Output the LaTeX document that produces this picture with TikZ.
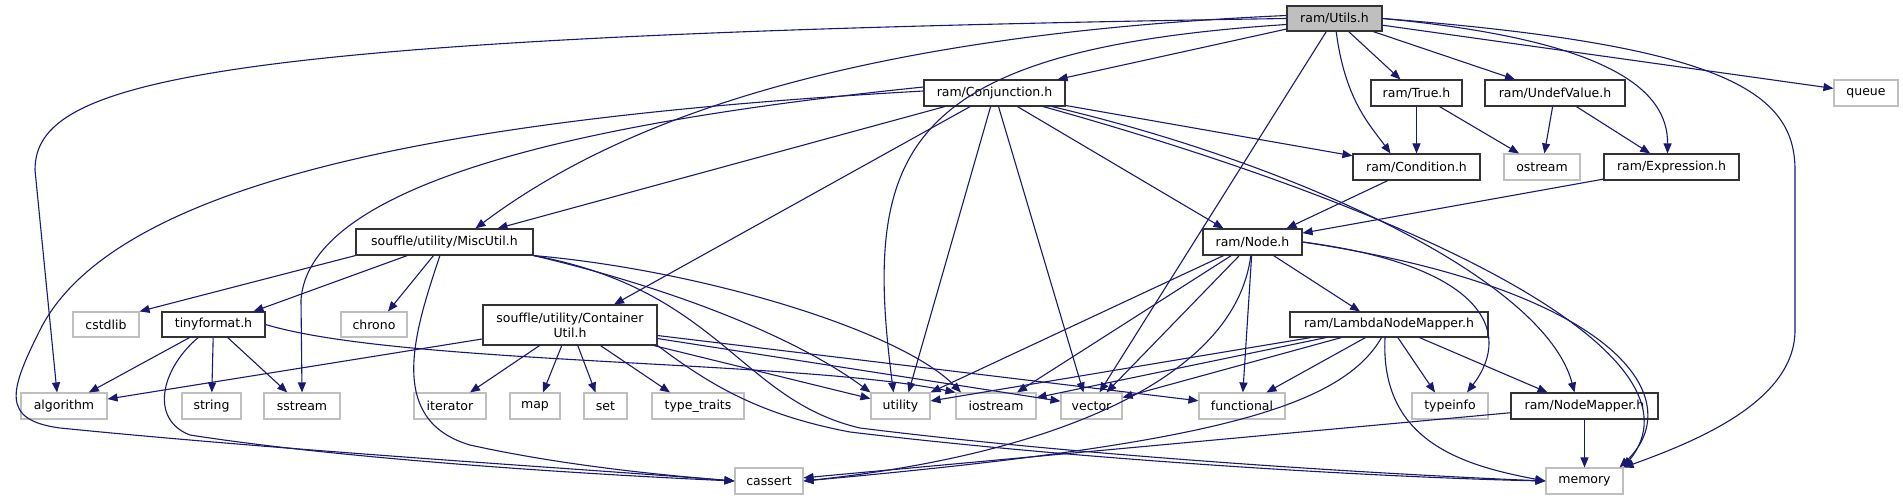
\documentclass[tikz,border=0pt]{standalone}
\usepackage{fontspec}
\setmainfont{DejaVu Sans}[Ligatures=CommonOff]
\usetikzlibrary{arrows.meta, positioning}
\definecolor{cedge}{HTML}{191970}
\definecolor{cgrey}{HTML}{BFBFBF}
\tikzset{
  every picture/.style={font=\fontsize{12.5}{15}\selectfont},
  hdr/.style={draw=black!80, fill=white, line width=1.1pt, inner sep=0pt, minimum height=26pt, align=center},
  sys/.style={hdr, draw=cgrey},
  root/.style={hdr, fill=cgrey},
  inc/.style={draw=cedge, line width=1.1pt, -{Triangle[length=10pt, width=8pt]}},
}

\begin{document}
\begin{tikzpicture}[x=1pt, y=-1pt]
  \useasboundingbox (0,0) rectangle (1903,500);
  % headers of the project
  \node[root, minimum width=95pt, minimum height=25pt] (utils) at (1334.5,18.5) {ram/Utils.h};
  \node[hdr, minimum width=141pt] (conj) at (994.5,93) {ram/Conjunction.h};
  \node[hdr, minimum width=91pt] (truen) at (1416.5,93) {ram/True.h};
  \node[hdr, minimum width=140pt] (undef) at (1555,93) {ram/UndefValue.h};
  \node[hdr, minimum width=127pt] (cond) at (1416.5,167) {ram/Condition.h};
  \node[hdr, minimum width=135pt] (expr) at (1671.5,167) {ram/Expression.h};
  \node[hdr, minimum width=177pt] (misc) at (444.5,242) {souffle/utility/MiscUtil.h};
  \node[hdr, minimum width=99pt] (ramnode) at (1252.5,242) {ram/Node.h};
  \node[hdr, minimum width=103pt, minimum height=25pt] (tiny) at (213.5,324.5) {tinyformat.h};
  \node[hdr, minimum width=174pt, minimum height=40pt] (cont) at (570,325) {souffle/utility/Container\\Util.h};
  \node[hdr, minimum width=198pt, minimum height=25pt] (lnm) at (1389,324.5) {ram/LambdaNodeMapper.h};
  \node[hdr, minimum width=147pt] (nmap) at (1584.5,406) {ram/NodeMapper.h};
  % system headers
  \node[sys, minimum width=64pt] (queue) at (1866,93) {queue};
  \node[sys, minimum width=76pt] (ostr) at (1542,167) {ostream};
  \node[sys, minimum width=66pt, minimum height=25pt] (cstd) at (106,324.5) {cstdlib};
  \node[sys, minimum width=66pt, minimum height=25pt] (chrono) at (374,324.5) {chrono};
  \foreach \n/\x/\w/\t in {alg/64/86/algorithm, str/211.5/59/string, sstr/302/76/sstream,
      iter/450/72/iterator, mapn/535/50/map, setn/605.5/43/set, tt/698/92/type\_traits,
      util/900.5/59/utility, iost/996/80/iostream, vec/1091.5/61/vector,
      func/1242/86/functional, tinfo/1450/76/typeinfo}
    \node[sys, minimum width=\w pt] (\n) at (\x,406) {\t};
  \node[sys, minimum width=68pt] (cass) at (769,481) {cassert};
  \node[sys, minimum width=77pt] (mem) at (1584.5,481) {memory};

  % ram/Utils.h
  \draw[inc] (utils.west) .. controls (200,35) and (35,80) .. (35,170) -- ([xshift=-7pt]alg.north);
  \draw[inc] ([yshift=3pt]utils.west) .. controls (850,35) and (620,120) .. ([xshift=31pt]misc.north);
  \draw[inc] (utils) -- ([xshift=-8pt]conj.north east);
  \draw[inc] ([yshift=-6pt]utils.west) .. controls (900,50) and (862,150) .. ([xshift=-7pt]util.north);
  \draw[inc] (utils) -- ([xshift=8pt]vec.north);
  \draw[inc] (utils) .. controls (1345,100) and (1370,125) .. ([xshift=-26pt]cond.north);
  \draw[inc] (utils) -- ([xshift=-16pt]truen.north);
  \draw[inc] (utils) -- ([xshift=-40pt]undef.north);
  \draw[inc] (utils.east) .. controls (1610,40) and (1668,90) .. ([xshift=-4pt]expr.north);
  \draw[inc] (utils.east) .. controls (1720,45) and (1795,90) .. (1795,170) -- (1795,330)
    .. controls (1795,400) and (1700,440) .. (mem.north east);
  \draw[inc] (utils) -- (queue);

  % ram/Conjunction.h
  \draw[inc] ([yshift=2pt]conj.west) .. controls (500,115) and (120,170) .. (40,330)
    .. controls (10,390) and (0,420) .. (60,428) .. controls (300,452) and (600,470) .. (cass.west);
  \draw[inc] ([yshift=6pt]conj.west) .. controls (650,115) and (310,170) .. (301,300) -- (sstr.north);
  \draw[inc] (conj) -- ([xshift=53pt]misc.north);
  \draw[inc] (conj) -- ([xshift=44pt]cont.north);
  \draw[inc] (conj) -- ([xshift=8pt]util.north);
  \draw[inc] (conj) -- ([xshift=-8pt]vec.north);
  \draw[inc] (conj) -- ([xshift=-29pt]ramnode.north);
  \draw[inc] (conj) -- (cond);
  \draw[inc] (conj) .. controls (1300,165) and (1545,280) .. ([xshift=-10pt]nmap.north);
  \draw[inc] (conj) .. controls (1450,220) and (1710,360) .. (mem.north east);

  % souffle/utility/MiscUtil.h
  \draw[inc] (misc.south west) -- (cstd.north east);
  \draw[inc] (misc) -- ([xshift=40pt]tiny.north);
  \draw[inc] (misc) -- ([xshift=14pt]chrono.north);
  \draw[inc] (misc) .. controls (415,330) and (385,420) .. (470,445)
    .. controls (560,465) and (660,475) .. (cass.west);
  \draw[inc] (misc.south east) .. controls (680,290) and (800,340) .. (util.north west);
  \draw[inc] (misc.south east) .. controls (700,270) and (900,330) .. ([xshift=-35pt]iost.north);
  \draw[inc] (misc.south east) .. controls (720,290) and (740,400) .. (860,428)
    .. controls (1100,458) and (1400,475) .. (mem.west);

  % tinyformat.h
  \draw[inc] (tiny) -- (alg);
  \draw[inc] (tiny) -- (str);
  \draw[inc] (tiny) -- (sstr);
  \draw[inc] (tiny) .. controls (160,370) and (150,420) .. (190,435)
    .. controls (350,460) and (600,475) .. (cass.west);
  \draw[inc] (tiny.east) .. controls (400,365) and (800,360) .. (iost.north west);

  % souffle/utility/ContainerUtil.h
  \draw[inc] (cont) -- (alg);
  \draw[inc] (cont) -- ([xshift=20pt]iter.north);
  \draw[inc] (cont) -- ([xshift=8pt]mapn.north);
  \draw[inc] (cont) -- ([xshift=-10pt]setn.north);
  \draw[inc] (cont) -- ([xshift=-28pt]tt.north);
  \draw[inc] (cont) -- (util);
  \draw[inc] (cont) -- (vec);
  \draw[inc] (cont) -- (func);
  \draw[inc] (cont.south east) .. controls (710,385) and (760,415) .. (850,432)
    .. controls (1100,462) and (1400,478) .. (mem.west);

  % ram/Node.h
  \draw[inc] (ramnode) -- (util.north east);
  \draw[inc] (ramnode) -- ([xshift=21pt]iost.north);
  \draw[inc] (ramnode) -- ([xshift=15pt]vec.north);
  \draw[inc] (ramnode) -- (func);
  \draw[inc] (ramnode) .. controls (1235,380) and (1050,455) .. (cass.east);
  \draw[inc] (ramnode) -- ([xshift=-29pt]lnm.north);
  \draw[inc] (ramnode.east) .. controls (1480,265) and (1515,330) .. ([xshift=17pt]tinfo.north);
  \draw[inc] (ramnode.east) .. controls (1620,290) and (1690,400) .. ([xshift=-4pt]mem.north east);

  % ram/LambdaNodeMapper.h
  \draw[inc] (lnm) -- (util);
  \draw[inc] (lnm) -- (iost);
  \draw[inc] (lnm) -- (vec);
  \draw[inc] (lnm) -- (func);
  \draw[inc] (lnm) .. controls (1340,410) and (1200,445) .. (cass.east);
  \draw[inc] ([xshift=-4pt]lnm.south) .. controls (1380,440) and (1460,465) .. (mem.west);
  \draw[inc] (lnm) -- ([xshift=-15pt]tinfo.north);
  \draw[inc] (lnm) -- ([xshift=-37pt]nmap.north);

  % the rest
  \draw[inc] (nmap) -- (cass);
  \draw[inc] (nmap) -- (mem);
  \draw[inc] (cond) -- ([xshift=34pt]ramnode.north);
  \draw[inc] (expr) -- (ramnode);
  \draw[inc] (truen) -- (cond);
  \draw[inc] (truen) -- (ostr);
  \draw[inc] (undef) -- (ostr);
  \draw[inc] (undef) -- (expr);
\end{tikzpicture}
\end{document}
